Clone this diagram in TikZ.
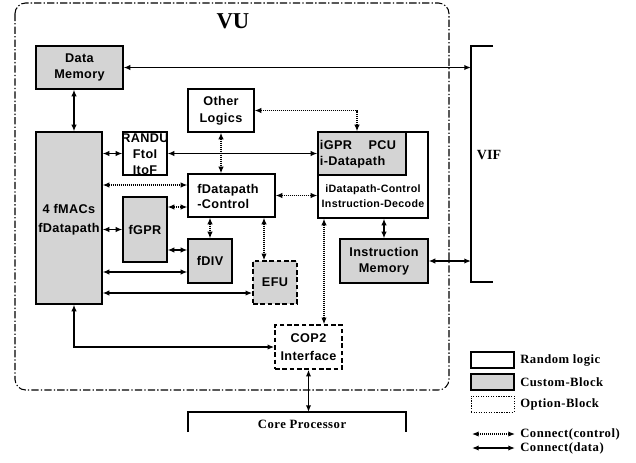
\documentclass[tikz,border=0pt]{standalone}
\usepackage{fontspec}
\setmainfont{Liberation Serif}
\newfontfamily\ar[LetterSpace=3]{Liberation Sans}
\newfontfamily\sr[LetterSpace=4]{Liberation Serif}
\usetikzlibrary{arrows.meta,fit,calc}
\begin{document}
\begin{tikzpicture}[x=0.75pt,y=-0.75pt,
  blk/.style={draw,line width=0.9pt,inner sep=0pt,align=center,
    font=\ar\bfseries\fontsize{9.5}{12}\selectfont},
  rnd/.style={blk,fill=white},
  cus/.style={blk,fill=black!17},
  opt/.style={blk,dash pattern=on 3.5pt off 2pt,line width=1.1pt},
  dat/.style={line width=1.1pt,{Latex[length=5pt,width=4pt]}-{Latex[length=5pt,width=4pt]}},
  ctl/.style={line width=0.9pt,dash pattern=on 0.8pt off 0.7pt,
    {Latex[length=5pt,width=4pt]}-{Latex[length=5pt,width=4pt]}},
  brk/.style={line width=2.2pt},
  lgt/.style={anchor=west,inner sep=0pt,font=\sr\bfseries\fontsize{9.5}{11}\selectfont},
  txt/.style={inner sep=0pt,align=center}
]
\useasboundingbox (0,0) rectangle (636,462);
% VU outer box
\draw[line width=0.8pt,dash pattern=on 5.5pt off 1.6pt on 1pt off 1.6pt,rounded corners=8]
  (15,3) rectangle (449,390);
\node[txt,font=\bfseries\fontsize{17}{17}\selectfont] (vu) at (233,21) {VU};

% VIF bracket
\draw[brk] (493,46) -- (471,46) -- (471,282) -- (493,282);
\coordinate (vifL) at (471,46);
\node[txt,font=\bfseries\fontsize{10.5}{12}\selectfont] (vif) at (489,155) {VIF};

% Core processor bracket
\draw[brk] (188,432) -- (188,412) -- (406,412) -- (406,432);
\coordinate (core) at (297,412);
\node[txt,font=\sr\bfseries\fontsize{9.5}{11}\selectfont] (coret) at (302,424) {Core Processor};

% blocks
\node[cus,fit={(36,46) (123,89)}] (dm) {};
\node[txt,font=\ar\bfseries\fontsize{9.5}{12}\selectfont] (dmt) at (dm.center) {Data\\Memory};
\node[rnd,fit={(188,89) (254,132)}] (ol) {};
\node[txt,font=\ar\bfseries\fontsize{9.5}{12.5}\selectfont] (olt) at (ol.center) {Other\\Logics};
\node[cus,fit={(36,132) (102,304)}] (fm) {};
\node[txt,font=\ar\bfseries\fontsize{9.5}{14.2}\selectfont] (fmt) at (69,220) {4 fMACs\\fDatapath};
\node[rnd,fit={(123,132) (167,175)}] (ra) {};
\node[txt,font=\ar\bfseries\fontsize{9.5}{12}\selectfont] (rat) at (145,154) {RANDU\\FtoI\\ItoF};
\node[rnd,fit={(188,174) (275,217)}] (fdc) {};
\node[txt,align=left,font=\ar\bfseries\fontsize{9.5}{11.3}\selectfont] (fdct) at (228,196) {fDatapath\\-Control};
\node[cus,fit={(123,197) (167,262)}] (fg) {};
\node[txt,font=\ar\bfseries\fontsize{9.5}{12}\selectfont] (fgt) at (fg.center) {fGPR};
\node[cus,fit={(188,239) (232,283)}] (fdv) {};
\node[txt,font=\ar\bfseries\fontsize{9.5}{12}\selectfont] (fdvt) at (fdv.center) {fDIV};
\node[cus,opt,fit={(253,261) (297,304)}] (efu) {};
\node[txt,font=\ar\bfseries\fontsize{9.5}{12}\selectfont] (efut) at (efu.center) {EFU};
\node[rnd,opt,fit={(275,325) (342,369)}] (cop) {};
\node[txt,font=\ar\bfseries\fontsize{9.5}{14}\selectfont] (copt) at (cop.center) {COP2\\Interface};
\node[rnd,fit={(318,132) (428,218)}] (idp) {};
\node[cus,fit={(318,132) (406,175)}] (ig) {};
\node[txt,align=left,font=\ar\bfseries\fontsize{9.5}{12}\selectfont] (igt) at (358,154) {iGPR\quad\ PCU\\i-Datapath};
\node[txt,font=\ar\bfseries\fontsize{8}{11.3}\selectfont] (idt) at (373,196) {iDatapath-Control\\Instruction-Decode};
\node[cus,fit={(340,239) (428,283)}] (im) {};
\node[txt,font=\ar\bfseries\fontsize{9.5}{12}\selectfont] (imt) at (im.center) {Instruction\\Memory};

% data connections
\draw[dat] (dm.east) -- (dm.east -| vifL);
\coordinate (cx) at (74,0);
\draw[dat] (dm.south -| cx) -- (fm.north -| cx);
\draw[dat] (fm.east |- ra.west) -- (ra.west);
\draw[dat] (ra.east) -- (ra.east -| ig.west);
\draw[dat] (fm.east |- fg.west) -- (fg.west);
\coordinate (y250) at (0,250);
\draw[dat] (fg.east |- y250) -- (fdv.west |- y250);
\coordinate (y272) at (0,272);
\draw[dat] (fm.east |- y272) -- (fdv.west |- y272);
\coordinate (y293) at (0,293);
\draw[dat] (fm.east |- y293) -- (efu.west |- y293);
\coordinate (y347) at (0,347);
\draw[dat] (fm.south -| cx) -- (cx |- y347) -- (cop.west |- y347);
\draw[dat] (idp.south -| im.north) -- (im.north);
\draw[dat] (im.east) -- (im.east -| vifL);
\draw[dat] (cop.south) -- (cop.south |- core);

% control connections
\coordinate (y185) at (0,185);
\draw[ctl] (fm.east |- y185) -- (fdc.west |- y185);
\coordinate (y207) at (0,207);
\draw[ctl] (fg.east |- y207) -- (fdc.west |- y207);
\draw[ctl] (ol.south) -- (ol.south |- fdc.north);
\draw[ctl] (fdc.south -| fdv.north) -- (fdv.north);
\coordinate (x264) at (264,0);
\draw[ctl] (fdc.south -| x264) -- (efu.north -| x264);
\draw[ctl] (fdc.east) -- (fdc.east -| idp.west);
\coordinate (x357) at (357,0);
\draw[ctl] (ol.east) -- (ol.east -| x357) -- (ig.north -| x357);
\coordinate (x324) at (324,0);
\draw[ctl] (idp.south -| x324) -- (cop.north -| x324);

% legend
\node[rnd,fit={(471,352) (514,368)}] (lg1) {};
\node[cus,fit={(471,374) (514,390)}] (lg2) {};
\node[blk,densely dotted,line width=0.6pt,fit={(471,396) (514,412)}] (lg3) {};
\node[lgt] (lt1) at (520,360) {Random logic};
\node[lgt] (lt2) at (520,382) {Custom-Block};
\node[lgt] (lt3) at (520,404) {Option-Block};
\coordinate (la1) at (472,434);
\coordinate (lb1) at (515,434);
\coordinate (la2) at (472,448);
\coordinate (lb2) at (515,448);
\draw[ctl] (la1) -- (lb1);
\draw[dat] (la2) -- (lb2);
\node[lgt] (lt4) at (520,434) {Connect(control)};
\node[lgt] (lt5) at (520,448) {Connect(data)};
\end{tikzpicture}
\end{document}
